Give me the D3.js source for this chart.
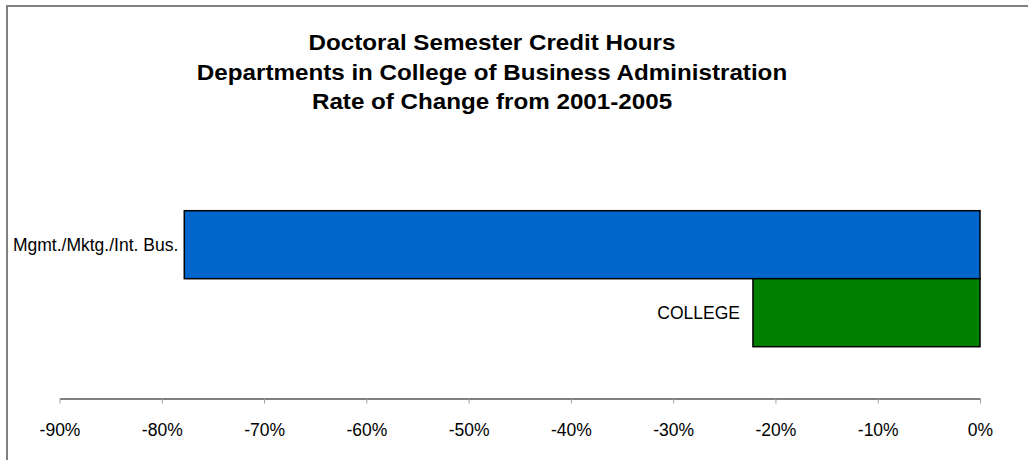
<!DOCTYPE html>
<html>
<head>
<meta charset="utf-8">
<script src="https://cdn.jsdelivr.net/npm/d3@7"></script>
<style>
  body { margin: 0; background: #fff; }
  svg { display: block; }
  text { font-family: "Liberation Sans", Arial, sans-serif; }
</style>
</head>
<body>
<svg id="chart" width="1028" height="460"></svg>
<script>
const titleLines = [
  "Doctoral Semester Credit Hours",
  "Departments in College of Business Administration",
  "Rate of Change from 2001-2005"
];
const categories = ["Mgmt./Mktg./Int. Bus.", "COLLEGE"];
const values = [-0.778, -0.222];
const barColors = ["#0066CC", "#008000"];
const labelGaps = [6, 13];
const tickValues = [-0.9, -0.8, -0.7, -0.6, -0.5, -0.4, -0.3, -0.2, -0.1, 0];

const svg = d3.select("#chart");

// outer frame
svg.append("rect")
  .attr("x", 7).attr("y", 6)
  .attr("width", 1040).attr("height", 480)
  .attr("fill", "#fff")
  .attr("stroke", "#808080")
  .attr("stroke-width", 2);

// title
svg.append("g")
  .attr("transform", "translate(492,0) scale(1.1,1)")
  .selectAll("text")
  .data(titleLines)
  .join("text")
  .attr("x", 0)
  .attr("y", (d, i) => 50.5 + i * 29.2)
  .attr("text-anchor", "middle")
  .attr("font-size", 22)
  .attr("font-weight", "bold")
  .attr("fill", "#000")
  .text(d => d);

const x = d3.scaleLinear().domain([-0.9, 0]).range([59.5, 980]);
const y = d3.scaleBand().domain(categories).range([142.7, 414.7]).paddingInner(0).paddingOuter(1);

// bars
svg.append("g").selectAll("rect")
  .data(categories)
  .join("rect")
  .attr("x", (d, i) => x(values[i]))
  .attr("y", d => y(d))
  .attr("width", (d, i) => x(0) - x(values[i]))
  .attr("height", y.bandwidth())
  .attr("fill", (d, i) => barColors[i])
  .attr("stroke", "#000")
  .attr("stroke-width", 1.5);

// bar labels
svg.append("g").selectAll("text")
  .data(categories)
  .join("text")
  .attr("x", (d, i) => x(values[i]) - labelGaps[i])
  .attr("y", d => y(d) + y.bandwidth() / 2)
  .attr("dy", "0.35em")
  .attr("text-anchor", "end")
  .attr("font-size", 17.5)
  .attr("fill", "#000")
  .text(d => d);

// x axis
const axis = d3.axisBottom(x)
  .tickValues(tickValues)
  .tickFormat(d3.format(".0%"))
  .tickSizeInner(5)
  .tickSizeOuter(0)
  .tickPadding(20);

const ax = svg.append("g")
  .attr("transform", "translate(0,398.5)")
  .call(axis);
ax.select(".domain").attr("stroke", "#000").attr("stroke-width", 1.2);
ax.selectAll(".tick line").attr("stroke", "#a0a0a0");
ax.selectAll(".tick text")
  .attr("font-size", 17.5)
  .attr("font-family", "Liberation Sans, Arial, sans-serif")
  .attr("fill", "#000")
  .text(d => d3.format(".0%")(d).replace("−", "-"));
</script>
</body>
</html>
